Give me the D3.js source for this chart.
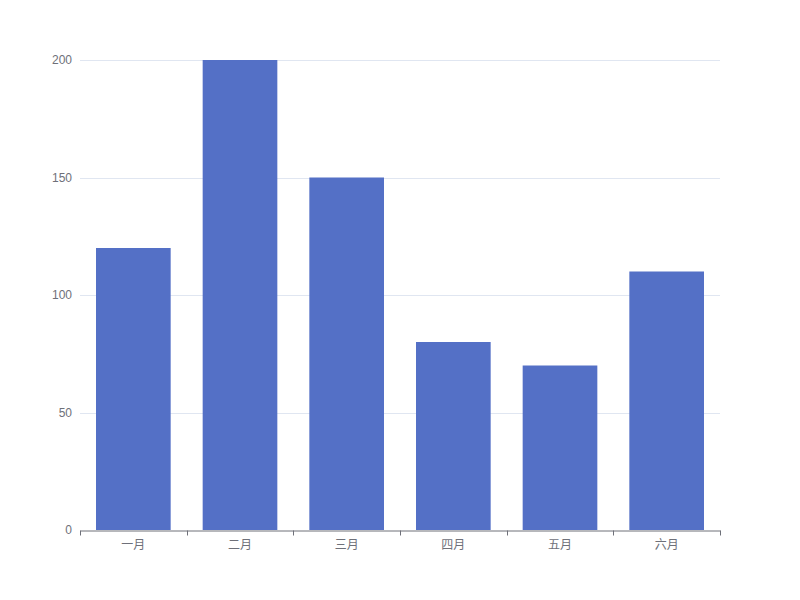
<!DOCTYPE html>
<html><head><meta charset="utf-8">
<script src="https://cdn.jsdelivr.net/npm/d3@7/dist/d3.min.js"></script>
<style>body{margin:0;background:#fff}svg{display:block}</style>
</head><body>
<svg id="c" width="800" height="600"></svg>
<script>
const categories = ["一月","二月","三月","四月","五月","六月"];
const values = [120, 200, 150, 80, 70, 110];
const yTicks = [0, 50, 100, 150, 200];

const svg = d3.select("#c");
const m = {left: 80, right: 720, top: 60, bottom: 530};
const font = "'Liberation Sans', 'Noto Sans CJK SC', sans-serif";

const x = d3.scaleBand().domain(categories).range([m.left, m.right]).paddingInner(0).paddingOuter(0);
const y = d3.scaleLinear().domain([0, 200]).range([m.bottom, m.top]);

// grid
svg.append("g").selectAll("line").data(yTicks.filter(d => d > 0)).join("line")
  .attr("x1", m.left).attr("x2", m.right)
  .attr("y1", d => Math.round(y(d)) + 0.5).attr("y2", d => Math.round(y(d)) + 0.5)
  .attr("stroke", "#E0E6F1").attr("stroke-width", 1);

// y labels
svg.append("g").selectAll("text").data(yTicks).join("text")
  .attr("x", m.left - 8).attr("y", d => y(d)).attr("dy", "0.35em")
  .attr("text-anchor", "end").attr("fill", "#6E7079")
  .attr("font-size", 12).attr("font-family", font).text(d => d);

// bars
const bw = x.bandwidth() * 0.7;
svg.append("g").selectAll("rect").data(values).join("rect")
  .attr("x", (d, i) => x(categories[i]) + (x.bandwidth() - bw) / 2)
  .attr("width", bw)
  .attr("y", d => y(d))
  .attr("height", d => y(0) - y(d))
  .attr("fill", "#5470c6");

// x axis
const xa = svg.append("g").attr("transform", `translate(0,${m.bottom + 0.5})`)
  .call(d3.axisBottom(x).tickSize(0).tickPadding(10));
xa.select(".domain").attr("stroke", "#6E7079");
xa.selectAll("text").attr("fill", "#6E7079").attr("font-size", 12).attr("font-family", font);
const bounds = categories.map(c => x(c)).concat([m.right]);
xa.selectAll("line.b").data(bounds).join("line").attr("class", "b")
  .attr("x1", d => Math.round(d) + 0.5).attr("x2", d => Math.round(d) + 0.5)
  .attr("y1", 0).attr("y2", 5).attr("stroke", "#6E7079");
</script>
</body></html>
